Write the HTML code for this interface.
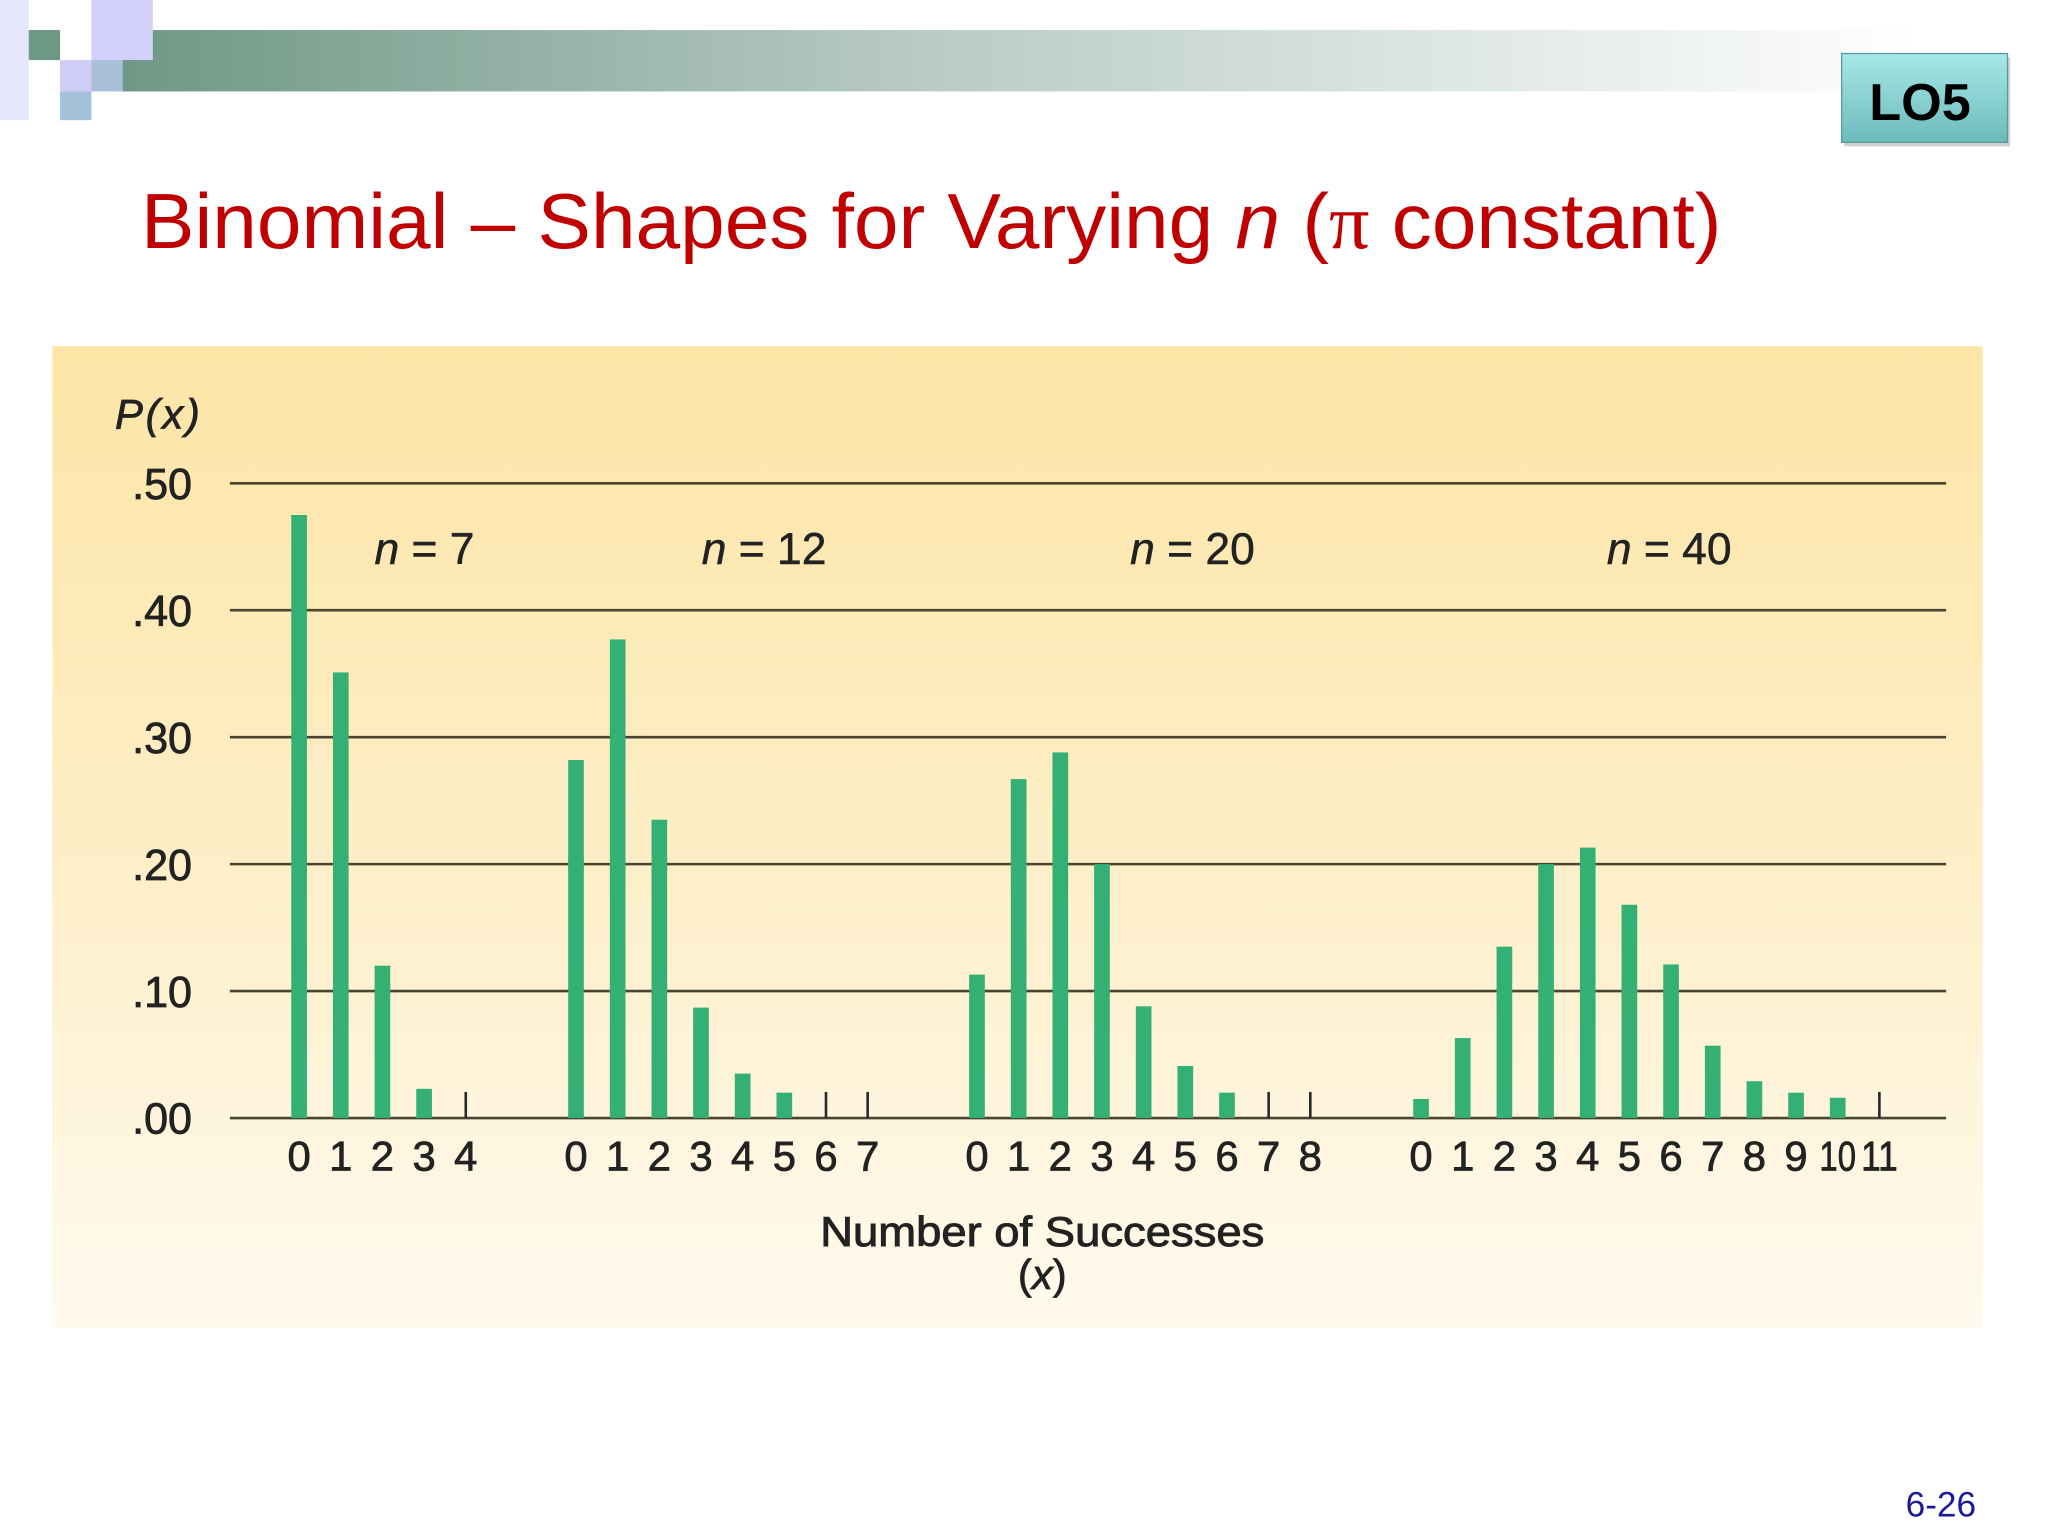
<!DOCTYPE html>
<html><head><meta charset="utf-8">
<style>
html,body{margin:0;padding:0;background:#fff;}
body{width:2048px;height:1536px;overflow:hidden;}
svg{display:block;}
</style></head>
<body>
<svg id="slide" width="2048" height="1536" viewBox="0 0 1568 1176" xmlns="http://www.w3.org/2000/svg" font-family="'Liberation Sans', sans-serif">
<defs>
<linearGradient id="band" x1="0" x2="1" y1="0" y2="0">
<stop offset="0" stop-color="#6e9886"/><stop offset="0.45" stop-color="#b9cbc4"/><stop offset="1" stop-color="#ffffff"/>
</linearGradient>
<linearGradient id="lo" x1="0" x2="0" y1="0" y2="1">
<stop offset="0" stop-color="#a8e8e8"/><stop offset="1" stop-color="#6cbaba"/>
</linearGradient>
<linearGradient id="panel" x1="0" x2="0" y1="0" y2="1">
<stop offset="0" stop-color="#fde5a6"/><stop offset="0.5" stop-color="#fdeec6"/><stop offset="1" stop-color="#fffaee"/>
</linearGradient>
</defs>
<g>
<rect x="90" y="23" width="1380" height="47" fill="url(#band)"/>
<rect x="0" y="0" width="22" height="92" fill="#e6e6fa"/>
<rect x="22" y="23" width="24" height="23" fill="#6e9886"/>
<rect x="70" y="0" width="47" height="46" fill="#d2d0f8"/>
<rect x="46" y="46" width="24" height="24" fill="#cfcdf6"/>
<rect x="70" y="46" width="24" height="24" fill="#a9c0d8"/>
<rect x="46" y="70" width="24" height="22" fill="#a4c2da"/>
</g>
<g>
<rect x="1412" y="44" width="127" height="68" fill="#777" opacity="0.35"/>
<rect x="1410" y="41" width="127" height="68" fill="url(#lo)" stroke="#5a9a9a" stroke-width="1"/>
<text x="1470" y="92" text-anchor="middle" font-size="40" font-weight="bold" fill="#000">LO5</text>
</g>
<text x="108" y="190" font-size="60" fill="#c00000" textLength="1210" lengthAdjust="spacingAndGlyphs">Binomial – Shapes for Varying <tspan font-style="italic">n</tspan> (<tspan font-family="'Liberation Serif', serif">π</tspan> constant)</text>
<rect x="40" y="265" width="1478" height="752" fill="url(#panel)"/>
<g id="chart"></g>
<text x="1513" y="1161" text-anchor="end" font-size="27" fill="#1a1a9a">6-26</text>
</svg>
<script>
const yTicks = [0, 0.10, 0.20, 0.30, 0.40, 0.50];
const yTickLabels = [".00", ".10", ".20", ".30", ".40", ".50"];
const groupNames = ["7", "12", "20", "40"];
const groupStartX = [229, 441, 748, 1088];
const values7 = [0.475, 0.351, 0.120, 0.023, 0];
const values12 = [0.282, 0.377, 0.235, 0.087, 0.035, 0.020, 0, 0];
const values20 = [0.113, 0.267, 0.288, 0.200, 0.088, 0.041, 0.020, 0, 0];
const values40 = [0.015, 0.063, 0.135, 0.200, 0.213, 0.168, 0.121, 0.057, 0.029, 0.020, 0.016, 0];
const groupLabelX = [325, 585, 913, 1278];

const NS = "http://www.w3.org/2000/svg";
const chart = document.getElementById("chart");
const y0 = 856, yPer = 972;
function yScale(v){ return y0 - v * yPer; }
const step = 31.9;
function xScale(g, i){ return groupStartX[g] + i * step; }
function mk(tag, attrs, parent){ const e = document.createElementNS(NS, tag); for (const k in attrs) e.setAttribute(k, attrs[k]); (parent||chart).appendChild(e); return e; }
const TXT = "#222";

const ytitle = mk("text", {x: 88, y: 328, "font-size": 32, fill: TXT, "font-style":"italic", stroke: TXT, "stroke-width": 0.6, textLength: 65, lengthAdjust: "spacing"});


ytitle.textContent = "P(x)";
yTicks.forEach((t, i) => {
  const ln = mk("line", {x1: 176, x2: 1490, y1: yScale(t), y2: yScale(t), stroke: "#4a4530", "stroke-width": 2});
  
  
  const lb = mk("text", {x: 147, y: yScale(t) + 12, "text-anchor": "end", "font-size": 33, fill: TXT, stroke: TXT, "stroke-width": 0.6});
  
  
  lb.textContent = yTickLabels[i];
});

const allVals = [values7, values12, values20, values40];
allVals.forEach((vals, g) => {
  vals.forEach((v, i) => {
    const x = xScale(g, i);
    if (v > 0) {
      const r = mk("rect", {x: x - 6, y: yScale(v), width: 12, height: y0 - yScale(v), fill: "#34b074"});
      
      
    } else {
      const tk = mk("line", {x1: x, x2: x, y1: y0 - 20, y2: y0, stroke: "#2a2a2a", "stroke-width": 2});
      
      
    }
    const lb = mk("text", {x: x, y: 896, "text-anchor": "middle", "font-size": 32, fill: TXT, stroke: TXT, "stroke-width": 0.6});
    
    
    if (i >= 10) { lb.setAttribute('textLength', 28); lb.setAttribute('lengthAdjust', 'spacingAndGlyphs'); }
    lb.textContent = String(i);
  });
  const gl = mk("text", {x: groupLabelX[g], y: 432, "text-anchor": "middle", "font-size": 34, fill: TXT, stroke: TXT, "stroke-width": 0.4});
  
  
  gl.innerHTML = '<tspan font-style="italic">n</tspan> = ' + groupNames[g];
});

const xt = mk("text", {x: 628, y: 954, "font-size": 32, fill: TXT, stroke: TXT, "stroke-width": 0.7, textLength: 340, lengthAdjust: "spacingAndGlyphs"});


xt.textContent = "Number of Successes";
const xt2 = mk("text", {x: 798, y: 987, "text-anchor": "middle", "font-size": 32, fill: TXT, stroke: TXT, "stroke-width": 0.6});


xt2.innerHTML = '(<tspan font-style="italic">x</tspan>)';
</script>
</body></html>
